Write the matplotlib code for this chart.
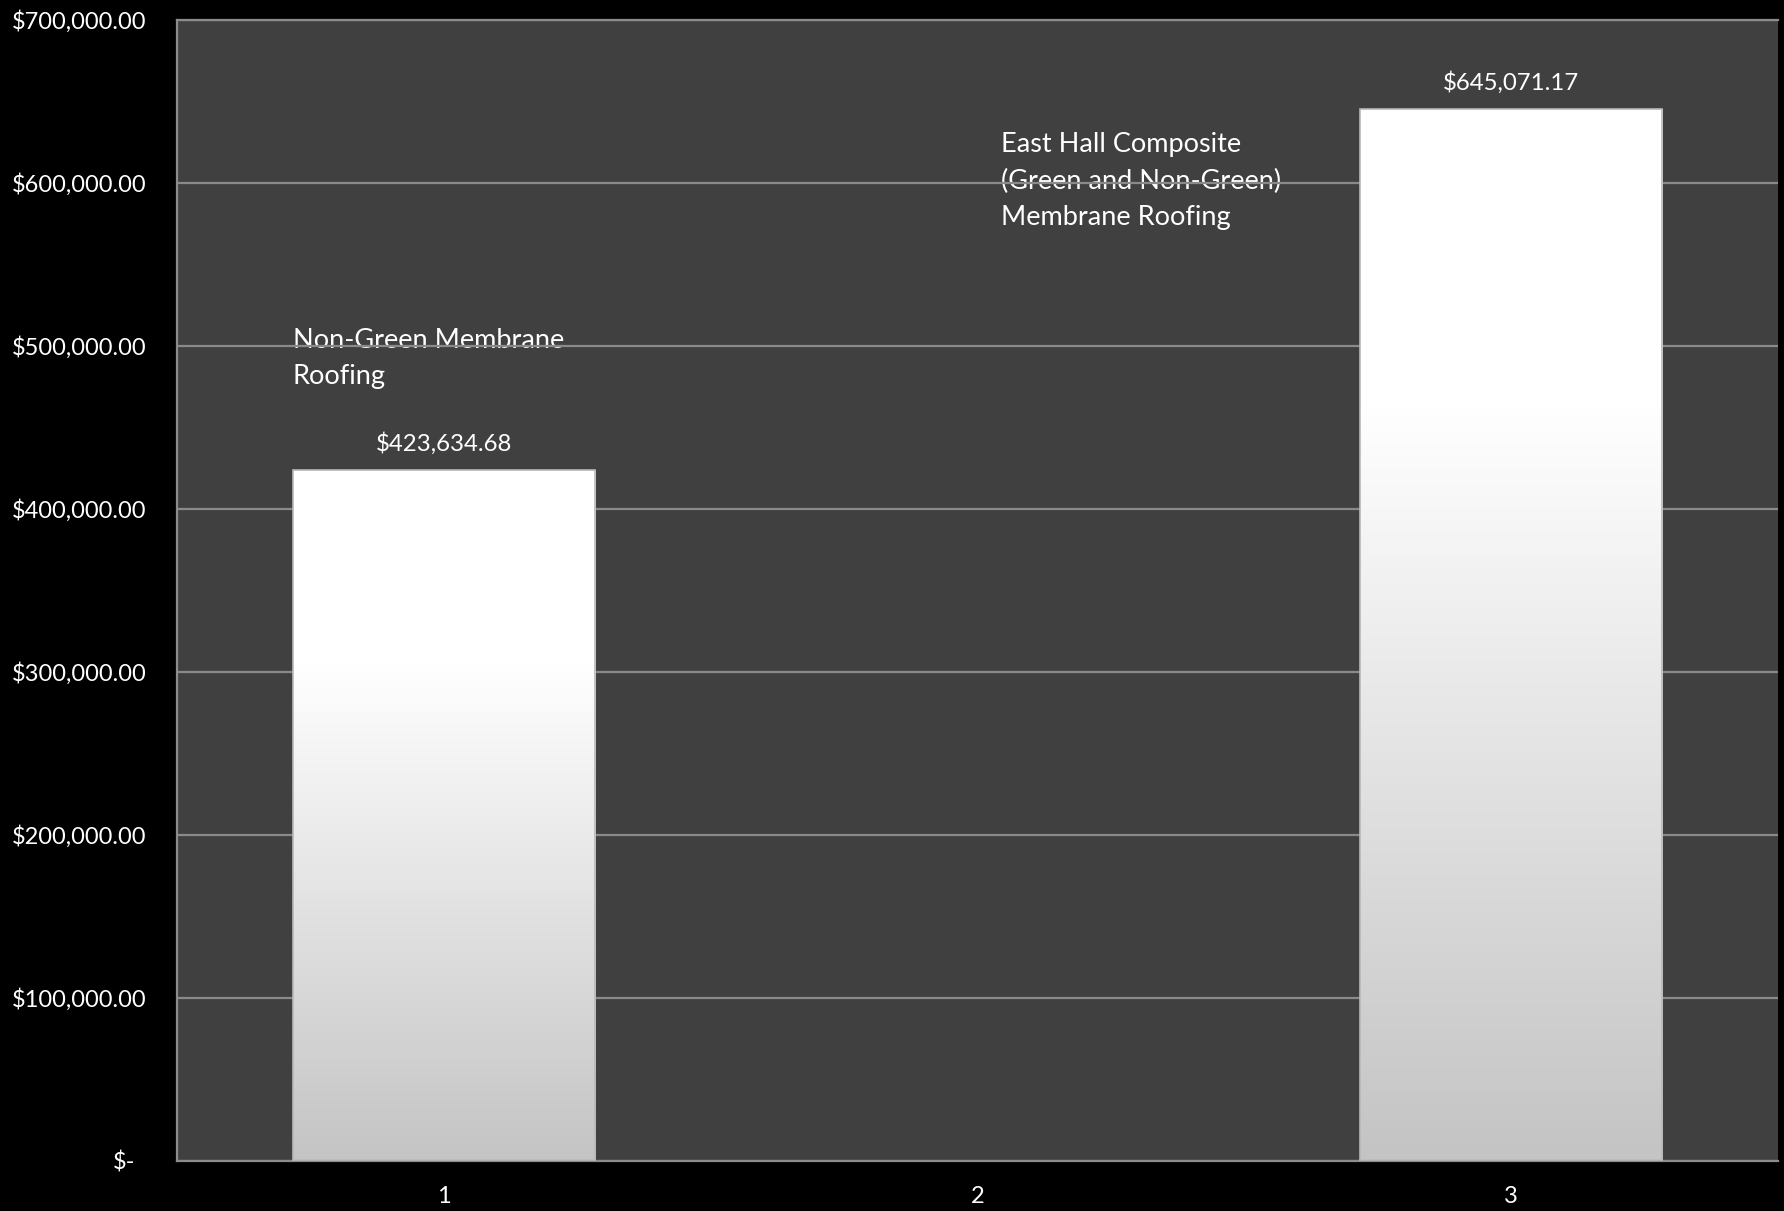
import numpy as np
import matplotlib
matplotlib.use("Agg")
import matplotlib.pyplot as plt
from matplotlib.ticker import FuncFormatter
from matplotlib.colors import LinearSegmentedColormap
from matplotlib.transforms import ScaledTranslation

plt.rcParams['font.family'] = ['Lato', 'DejaVu Sans']

# Roofing cost data
categories = ["1", "2", "3"]
costs = [423634.68, 0.0, 645071.17]
value_labels = ["$423,634.68", None, "$645,071.17"]
notes = ["Non-Green Membrane\nRoofing", None,
         "East Hall Composite\n(Green and Non-Green)\nMembrane Roofing"]
y_ticks = [0, 100000, 200000, 300000, 400000, 500000, 600000, 700000]

W, H, DPI = 1784, 1211, 100
fig = plt.figure(figsize=(W / DPI, H / DPI), dpi=DPI, facecolor="black")
ax = fig.add_axes([177 / W, 1 - 1161 / H, (1778 - 177) / W, (1161 - 19.5) / H])
ax.set_facecolor("#404040")

x = np.arange(len(categories))
bar_w = 0.567
edge_cols = ["#b8b8b8" if c > 0 else "none" for c in costs]
bars = ax.bar(x, costs, width=bar_w, color="none", edgecolor=edge_cols,
              linewidth=1.2, zorder=3)

# white-to-grey vertical fill inside each bar
grad_cmap = LinearSegmentedColormap.from_list(
    "barfill", [(0.0, "#c4c4c4"), (0.72, "#ffffff"), (1.0, "#ffffff")])
grad = np.linspace(0, 1, 256).reshape(-1, 1)
for b in bars:
    if b.get_height() <= 0:
        continue
    x0, y0 = b.get_x(), b.get_y()
    im = ax.imshow(grad, cmap=grad_cmap, origin="lower", aspect="auto",
                   extent=(x0, x0 + b.get_width(), y0, y0 + b.get_height()),
                   zorder=2.5, interpolation="bilinear")
    im.set_clip_path(b)

ax.set_xlim(-0.5, 2.5)
ax.set_ylim(0, 700000)
ax.set_yticks(y_ticks)
ax.set_xticks(x)
ax.set_xticklabels(categories)


def money(v, pos=None):
    if v == 0:
        return "$-"
    return "${:,.2f}".format(v)


ax.yaxis.set_major_formatter(FuncFormatter(money))
ax.tick_params(axis="both", length=0, colors="white", labelsize=17)
ax.tick_params(axis="y", pad=22)
ax.tick_params(axis="x", pad=18)

# zero label sits slightly left, as in accounting format
fig.canvas.draw()
zero_lbl = ax.get_yticklabels()[0]
zero_lbl.set_transform(zero_lbl.get_transform()
                       + ScaledTranslation(-0.11, 0, fig.dpi_scale_trans))

ax.yaxis.grid(True, color="#8a8a8a", linewidth=1.6, zorder=1)
ax.set_axisbelow(True)

for side in ["left", "bottom", "top"]:
    ax.spines[side].set_color("#8c8c8c")
    ax.spines[side].set_linewidth(1.6)
ax.spines["right"].set_visible(False)

# value labels above bars
for xi, v, lbl in zip(x, costs, value_labels):
    if lbl is None:
        continue
    ax.annotate(lbl, (xi, v), xytext=(0, 11), textcoords="offset points",
                ha="center", va="bottom", color="white", fontsize=17.3, zorder=5)

# category notes
ax.text(-bar_w / 2, 511000, notes[0], ha="left", va="top", color="white",
        fontsize=19.5, linespacing=1.58, zorder=0.5)
ax.text(1.044, 631000, notes[2], ha="left", va="top", color="white",
        fontsize=19.5, linespacing=1.58, zorder=0.5)

fig.savefig("out.png", dpi=DPI, facecolor="black")
